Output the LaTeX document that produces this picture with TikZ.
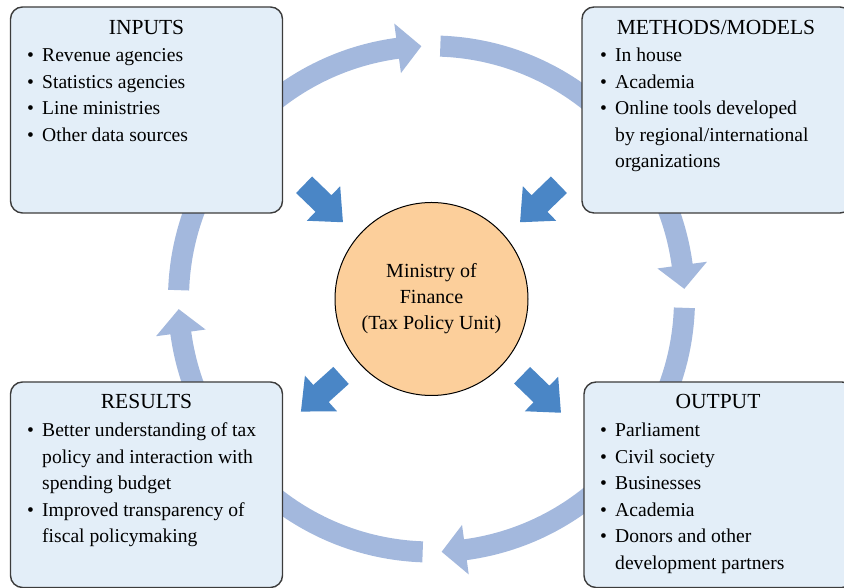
\documentclass[tikz,border=0pt]{standalone}
\usepackage{fontspec}
\setmainfont{Liberation Serif}
\usetikzlibrary{calc}

\definecolor{boxfill}{HTML}{E3EEF8}
\definecolor{boxdraw}{HTML}{3C3C3C}
\definecolor{ringcol}{HTML}{A3B8DD}
\definecolor{pushcol}{HTML}{4A86C6}
\definecolor{hubfill}{HTML}{FCCF9B}

% bullet and continuation indent for the lists
\newcommand\bul{\makebox[15pt][l]{\textbullet}}
\newcommand\ind{\hspace*{15pt}}

% one segment of the cycle ring: #1 tail angle, #2 tip angle (clockwise)
\newcommand\ringseg[2]{%
  \pgfmathsetmacro\headbase{#2+5.4}%
  \fill[ringcol] ($(hub)+(#1:263.5)$) arc[start angle=#1, end angle=\headbase, radius=263.5]
    -- ($(hub)+(\headbase:278)$) -- ($(hub)+(#2:253)$) -- ($(hub)+(\headbase:228)$)
    -- ($(hub)+(\headbase:242.5)$) arc[start angle=\headbase, end angle=#1, radius=242.5]
    -- cycle;%
}

\tikzset{
  panel/.style={draw=boxdraw, fill=boxfill, line width=1.4pt, rounded corners=12pt,
    inner sep=0pt, minimum height=206pt},
  paneltitle/.style={anchor=base, inner sep=0pt, font=\fontsize{21.5}{26.5}\selectfont},
  listtext/.style={anchor=base west, inner sep=0pt, font=\fontsize{19.6}{26.5}\selectfont},
  hubnode/.style={circle, draw=black, line width=1pt, fill=hubfill, minimum size=193pt,
    inner sep=0pt, align=center, font=\fontsize{20}{26}\selectfont},
  pushtip/.pic={\fill[pushcol] (-27,-11.5) -- (0,-11.5) -- (0,-24) -- (27,0) -- (0,24)
    -- (0,11.5) -- (-27,11.5) -- cycle;}
}

\begin{document}
\begin{tikzpicture}[x=1pt, y=1pt]
\useasboundingbox (0,0) rectangle (844,588);
\clip (0,0) rectangle (844,588);

\coordinate (hub) at (431.5,289);

% the cycle ring, four clockwise segments
\ringseg{178}{92.3}
\ringseg{88}{2.3}
\ringseg{-2}{-87.7}
\ringseg{-92}{-177.7}

% the four panels
\node[panel, minimum width=272pt] (inputs)  at (146.5,478) {};
\node[panel, minimum width=270pt] (methods) at (717,478) {};
\node[panel, minimum width=272pt, minimum height=205.5pt] (results) at (146.5,103.25) {};
\node[panel, minimum width=270pt, minimum height=205.5pt] (output)  at (719,103.25) {};

% panel titles
\node[paneltitle] (inputs-t)  at (146.5,553) {INPUTS};
\node[paneltitle] (methods-t) at (716,553) {METHODS/MODELS};
\node[paneltitle] (results-t) at (146.5,179.7) {RESULTS};
\node[paneltitle] (output-t)  at (718,179.7) {OUTPUT};

% panel lists
\node[listtext] (inputs-l) at (27,526.3) {\parbox[t]{240pt}{%
  \bul Revenue agencies\\
  \bul Statistics agencies\\
  \bul Line ministries\\
  \bul Other data sources}};
\node[listtext] (methods-l) at (600,526.3) {\parbox[t]{240pt}{%
  \bul In house\\
  \bul Academia\\
  \bul Online tools developed\\
  \ind by regional/international\\
  \ind organizations}};
\node[listtext] (results-l) at (27,151.3) {\parbox[t]{250pt}{%
  \bul Better understanding of tax\\
  \ind policy and interaction with\\
  \ind spending budget\\
  \bul Improved transparency of\\
  \ind fiscal policymaking}};
\node[listtext] (output-l) at (600,151.3) {\parbox[t]{240pt}{%
  \bul Parliament\\
  \bul Civil society\\
  \bul Businesses\\
  \bul Academia\\
  \bul Donors and other\\
  \ind development partners}};

% centre
\node[hubnode] (mof) at (hub) {Ministry of\\Finance\\(Tax Policy Unit)};

% flows into and out of the centre
\pic[rotate=-44]  at (323.5,384.5) {pushtip};
\pic[rotate=-136] at (539.5,384.5) {pushtip};
\pic[rotate=-138] at (321,194.5) {pushtip};
\pic[rotate=-44]  at (541.5,194) {pushtip};
\end{tikzpicture}
\end{document}
